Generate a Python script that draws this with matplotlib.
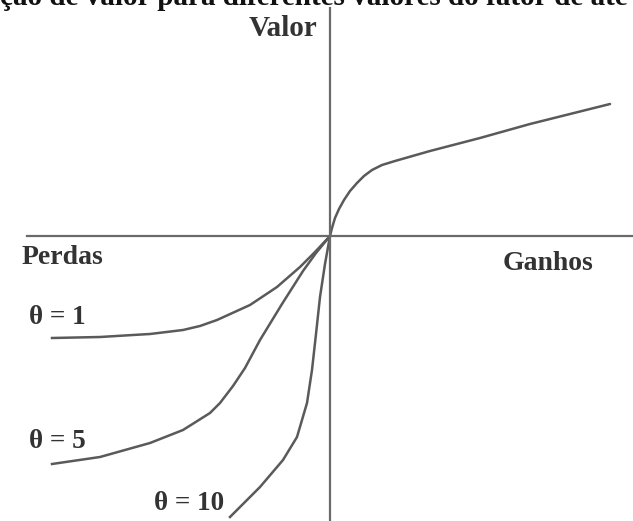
import matplotlib
matplotlib.use("Agg")
import matplotlib.pyplot as plt

# Curve data (origin at the axes crossing)
gains_x = [0, 2, 5, 9, 14, 20, 27, 34, 42, 52, 65, 100, 150, 200, 280]
gains_y = [0, 8, 18, 27, 36, 45, 53, 60, 66, 71, 75, 85, 98, 112, 132]

theta1_x = [0, -15, -30, -53, -80, -113, -130, -147, -180, -197, -230, -278]
theta1_y = [0, -16, -31, -51, -69, -84, -90, -94, -98, -99, -101, -102]

theta5_x = [0, -14, -27, -48, -70, -85, -97, -110, -120, -147, -180, -230, -278]
theta5_y = [0, -17, -35, -68, -104, -132, -150, -167, -177, -194, -207, -221, -228]

theta10_x = [0, -5, -10, -14, -18, -23, -33, -47, -70, -100]
theta10_y = [0, -28, -61, -98, -134, -167, -201, -224, -251, -281]

loss_labels = ["θ = 1", "θ = 5", "θ = 10"]
title_text = "ção de valor para diferentes valores do fator de ate"

fig = plt.figure(figsize=(6.33, 5.21), dpi=100)
ax = fig.add_axes([0, 0, 1, 1])
ax.set_xlim(-330, 303)
ax.set_ylim(-285, 236)

for s in ["top", "right"]:
    ax.spines[s].set_visible(False)
ax.spines["left"].set_position(("data", 0))
ax.spines["bottom"].set_position(("data", 0))
ax.spines["left"].set_bounds(-285, 228)
ax.spines["bottom"].set_bounds(-303, 303)
for s in ["left", "bottom"]:
    ax.spines[s].set_color("#6a6a6a")
    ax.spines[s].set_linewidth(1.6)
ax.set_xticks([])
ax.set_yticks([])

lc = "#5a5a5a"
lw = 1.8
ax.plot(gains_x, gains_y, color=lc, lw=lw, solid_capstyle="round")
ax.plot(theta1_x, theta1_y, color=lc, lw=lw)
ax.plot(theta5_x, theta5_y, color=lc, lw=lw)
ax.plot(theta10_x, theta10_y, color=lc, lw=lw)

font = dict(family="Liberation Serif", fontweight="bold", color="#333333")
ax.text(-47, 207, "Valor", ha="center", va="center", fontsize=21, **font)
ax.text(-268, -22, "Perdas", ha="center", va="center", fontsize=20, **font)
ax.text(218, -27, "Ganhos", ha="center", va="center", fontsize=20, **font)
ax.text(-273, -82, loss_labels[0], ha="center", va="center", fontsize=19.5, **font)
ax.text(-273, -206, loss_labels[1], ha="center", va="center", fontsize=19.5, **font)
ax.text(-141, -268, loss_labels[2], ha="center", va="center", fontsize=19.5, **font)

fig.text(0.0, 1 - 5 / 521, title_text, ha="left", va="baseline",
         fontsize=21, fontweight="bold", family="Liberation Serif", color="#111111")

fig.savefig("out.png", dpi=100, facecolor="white")
